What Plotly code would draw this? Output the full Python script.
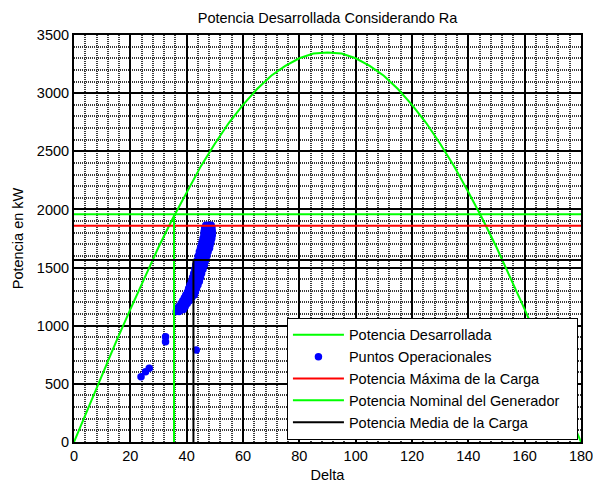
import plotly.graph_objects as go

# Developed power curve
curve_delta = [0, 5, 10, 15, 20, 25, 30, 35, 40, 45, 50, 55, 60, 65, 70, 75, 80, 85, 90,
               95, 100, 105, 110, 115, 120, 125, 130, 135, 140, 145, 150, 155, 160, 165,
               170, 175, 180]
curve_power = [0, 290, 575, 865, 1140, 1415, 1675, 1920, 2150, 2370, 2565, 2745, 2900,
               3035, 3150, 3235, 3300, 3340, 3350, 3340, 3300, 3235, 3150, 3035, 2900,
               2745, 2565, 2370, 2150, 1920, 1675, 1415, 1140, 865, 575, 290, 0]

# Operational points
op_delta = [23.8, 25.4, 26.7, 32.5, 32.5, 43.4,
            36.3, 37.3,
            36.6, 37.8, 38.8,
            37.2, 38.4, 39.5,
            38.0, 39.0, 40.2,
            38.6, 39.8, 41.0,
            39.2, 40.5, 41.8,
            39.7, 41.2, 42.7,
            40.3, 41.7, 43.1,
            40.7, 42.1, 43.5,
            41.2, 42.6, 44.0,
            41.7, 43.1, 44.5,
            42.1, 43.6, 44.9,
            42.5, 44.0, 45.3,
            42.9, 44.4, 45.8,
            43.2, 44.8, 46.3,
            43.7, 45.2, 46.7,
            44.1, 45.7, 47.2,
            44.5, 46.1, 47.6,
            44.9, 46.5, 48.1,
            45.2, 46.8, 48.3,
            45.5, 47.1, 48.6,
            45.8, 47.4, 48.9,
            46.1, 47.6, 49.1,
            46.2, 47.7, 49.1,
            46.4, 47.8, 49.0,
            46.8, 47.8, 48.7]
op_power = [562, 605, 634, 906, 863, 792,
            1122, 1122,
            1140, 1140, 1140,
            1165, 1165, 1165,
            1190, 1190, 1190,
            1215, 1215, 1215,
            1240, 1240, 1240,
            1265, 1265, 1265,
            1290, 1290, 1290,
            1320, 1320, 1320,
            1350, 1350, 1350,
            1380, 1380, 1380,
            1415, 1415, 1415,
            1450, 1450, 1450,
            1485, 1485, 1485,
            1523, 1523, 1523,
            1560, 1560, 1560,
            1600, 1600, 1600,
            1635, 1635, 1635,
            1667, 1667, 1667,
            1695, 1695, 1695,
            1720, 1720, 1720,
            1750, 1750, 1750,
            1781, 1781, 1781,
            1810, 1810, 1810,
            1840, 1840, 1840,
            1865, 1865, 1865]

p_max_carga = 1859
p_nominal = 1959
delta_nominal = 35.5
p_media = 1565
delta_media = 42.4
x_range = [0, 180]
y_range = [0, 3500]

FONT = "Liberation Sans, Arial, sans-serif"
PAD = "\u00a0\u00a0\u00a0"

fig = go.Figure()
fig.add_trace(go.Scatter(x=curve_delta, y=curve_power, mode="lines",
                         line=dict(color="#00ff00", width=2),
                         name="Potencia Desarrollada"))
fig.add_trace(go.Scatter(x=op_delta, y=op_power, mode="markers",
                         marker=dict(color="#0000ff", size=7.5, line=dict(width=0)),
                         name="Puntos Operacionales"))
fig.add_trace(go.Scatter(x=x_range, y=[p_max_carga, p_max_carga], mode="lines",
                         line=dict(color="#ff0000", width=2),
                         name="Potencia Máxima de la Carga"))
fig.add_trace(go.Scatter(x=[x_range[0], x_range[1], None, delta_nominal, delta_nominal],
                         y=[p_nominal, p_nominal, None, 0, p_nominal], mode="lines",
                         line=dict(color="#00ff00", width=2),
                         name="Potencia Nominal del Generador" + PAD))
fig.add_trace(go.Scatter(x=[x_range[0], x_range[1], None, delta_media, delta_media],
                         y=[p_media, p_media, None, 0, p_media], mode="lines",
                         line=dict(color="#000000", width=2),
                         name="Potencia Media de la Carga"))

axis_common = dict(showline=True, mirror=True, linecolor="black", linewidth=2,
                   showgrid=True, gridcolor="black", gridwidth=2, zeroline=False,
                   automargin=False, ticks="", ticklabeloverflow="allow",
                   tickfont=dict(size=14.5, color="black", family=FONT))

fig.update_xaxes(range=x_range, dtick=20, tick0=0,
                 title=dict(text="Delta", font=dict(size=14.5, color="black", family=FONT),
                            standoff=8),
                 minor=dict(dtick=4, tick0=0, showgrid=True, gridcolor="#3a3a3a", gridwidth=2,
                            griddash="1px,1px"),
                 **axis_common)
fig.update_yaxes(range=y_range, dtick=500, tick0=0,
                 title=dict(text="Potencia en kW", font=dict(size=14.5, color="black", family=FONT),
                            standoff=10),
                 minor=dict(dtick=100, tick0=0, showgrid=True, gridcolor="#3a3a3a", gridwidth=2,
                            griddash="1px,1px"),
                 **axis_common)

fig.update_layout(
    width=593, height=483,
    margin=dict(l=74, r=12, t=35, b=41, pad=0),
    paper_bgcolor="white", plot_bgcolor="white",
    font=dict(family=FONT, size=14.5, color="black"),
    title=dict(text="Potencia Desarrollada Considerando Ra", x=0.5, xref="paper",
               xanchor="center", y=1 - 18 / 483, yanchor="middle",
               font=dict(size=14.5, color="black", family=FONT)),
    showlegend=True,
    hovermode=False,
    legend=dict(x=0.42, y=0.305, xanchor="left", yanchor="top",
                bgcolor="white", bordercolor="black", borderwidth=1,
                font=dict(size=14.5, color="black", family=FONT),
                tracegroupgap=0, itemwidth=51),
)

fig.write_html("out.html",
               config={"displayModeBar": False, "staticPlot": True},
               post_script="document.body.style.margin='0';document.body.style.overflow='hidden';")
